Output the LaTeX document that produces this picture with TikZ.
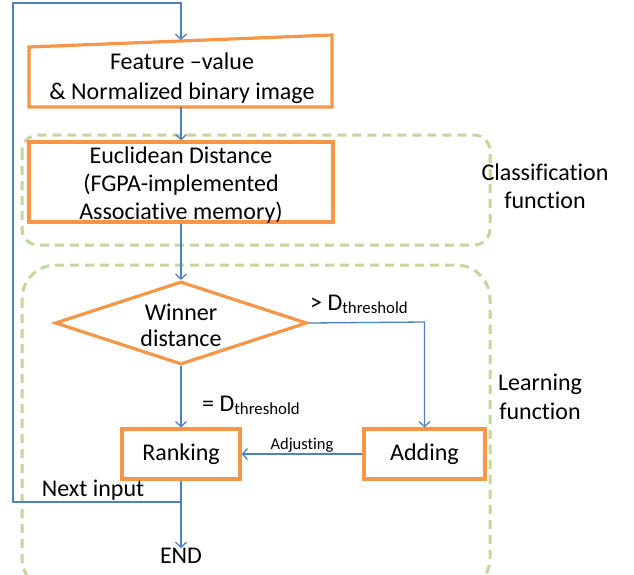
\documentclass[tikz,border=0pt]{standalone}
\usepackage{fontspec}
\setmainfont[Ligatures=NoCommon]{Carlito}
\usetikzlibrary{arrows.meta,shapes.geometric}
\definecolor{boxorange}{HTML}{F79646}
\definecolor{flowblue}{HTML}{4F81BD}
\definecolor{groupgreen}{HTML}{C3D69B}
\tikzset{
  procbox/.style={draw=boxorange,line width=3.2pt,fill=white,inner sep=0pt,align=center,font=\fontsize{24}{28}\selectfont},
  flow/.style={draw=flowblue,line width=1.3pt,-{Straight Barb[length=5pt,width=11pt,line width=1.3pt]}},
  groupbox/.style={draw=groupgreen,line width=3pt,dash pattern=on 9pt off 6pt},
  lbl/.style={inner sep=0pt,align=center,font=\fontsize{24}{28.5}\selectfont},
  smalllbl/.style={inner sep=0pt,font=\fontsize{16.5}{18}\selectfont}
}
\begin{document}
\begin{tikzpicture}[x=1pt,y=-1pt]
\useasboundingbox (0,0) rectangle (634,574);
\clip (0,0) rectangle (634,574);
% group boxes
\draw[groupbox,rounded corners=16pt] (22,135) rectangle (490,245);
\draw[groupbox,rounded corners=34pt] (22,265) rectangle (490,592);
\node[lbl] (clsf) at (545,186) {Classification\\function};
\node[lbl] (lrnf) at (540,397) {Learning\\function};
% input shape
\coordinate (i1) at (29,47);
\coordinate (i2) at (332,35);
\coordinate (i3) at (332,107);
\coordinate (i4) at (29,107);
\draw[draw=boxorange,line width=3.2pt,fill=white,line join=miter] (i1) -- (i2) -- (i3) -- (i4) -- cycle;
\coordinate (inptop) at (181,40);
\coordinate (inpbot) at (181,107);
\node[lbl,font=\fontsize{24}{30}\selectfont] (inp) at (182,78) {Feature –value\\\& Normalized binary image};
% euclidean
\node[procbox,minimum width=304pt,minimum height=80pt] (eucl) at (181,182) {};
\node[lbl,font=\fontsize{24}{28}\selectfont] (eucltxt) at (181,185) {Euclidean Distance\\(FGPA-implemented\\Associative memory)};
% diamond
\node[draw=boxorange,line width=3.2pt,fill=white,shape=diamond,aspect=3.04,minimum width=252pt,minimum height=83pt,inner sep=0pt] (dia) at (181,323) {};
\node[lbl,font=\fontsize{24}{26}\selectfont] (diatxt) at (181,325) {Winner\\distance};
% ranking, adding
\node[procbox,minimum width=118pt,minimum height=50pt] (rank) at (181,454) {Ranking};
\node[procbox,minimum width=121pt,minimum height=50pt] (add) at (424.5,454) {Adding};
\node[lbl] (endn) at (181,556) {END};
% connectors
\coordinate (c3) at (181,3);
\coordinate (c2) at (13,3);
\coordinate (c1) at (13,502);
\coordinate (jn) at (181,502);
\coordinate (dr) at (424.5,322);
\draw[flow] (inpbot) -- (eucl.north);
\draw[flow] (eucl.south) -- (dia.north);
\draw[flow] (dia.east) -- (dr) -- (add.north);
\draw[flow] (dia.south) -- (rank.north);
\draw[flow] (add.west) -- node[smalllbl,above=1pt] (adj) {Adjusting} (rank.east);
\draw[flow] (rank.south) -- (endn.north);
\draw[flow] (jn) -- (c1) -- (c2) -- (c3) -- (inptop);
\node[lbl,anchor=base west] (gt) at (310,310) {> D\textsubscript{threshold}};
\node[lbl,anchor=base west] (eq) at (202,411) {= D\textsubscript{threshold}};
\node[lbl] (nxt) at (93,490) {Next input};
\end{tikzpicture}
\end{document}
